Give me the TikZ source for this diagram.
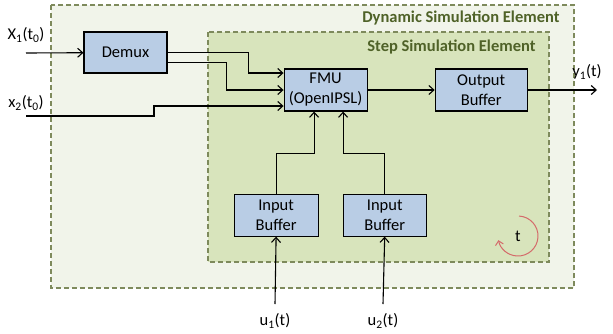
\documentclass[tikz,border=0pt]{standalone}
\usepackage{fontspec}
\setmainfont{Carlito}
\usetikzlibrary{arrows.meta,positioning}

\definecolor{outerfill}{HTML}{F1F4EA}
\definecolor{innerfill}{HTML}{D8E4BC}
\definecolor{dashcol}{HTML}{7E8A5C}
\definecolor{labcol}{HTML}{4F6228}
\definecolor{boxfill}{HTML}{B9CDE5}
\definecolor{loopcol}{HTML}{D46A6A}

\newcommand{\diagfont}{\fontsize{16.5}{20}\selectfont}

\tikzset{
  block/.style={draw=black, line width=1.1pt, fill=boxfill, minimum width=84pt,
    minimum height=42pt, align=center, inner sep=1pt},
  area/.style={draw=dashcol, line width=1.2pt, dash pattern=on 5pt off 3pt},
  arealabel/.style={anchor=east, text=labcol, font=\diagfont\bfseries},
  sig/.style={line width=1.1pt, -{Straight Barb[length=5pt,width=9pt]}}
}

\begin{document}
\begin{tikzpicture}[x=1pt, y=-1pt, node distance=40pt and 40pt,
    every node/.style={font=\diagfont}]
      \useasboundingbox (0,0) rectangle (613,333);

      % containers
      \draw[area, fill=outerfill] (51,5) rectangle (574,288);
      \draw[area, fill=innerfill] (208,32) rectangle (549,262);
      \node[arealabel] (dynlab) at (563,18) {Dynamic Simulation Element};
      \node[arealabel] (steplab) at (539,47) {Step Simulation Element};

      \node[block, minimum width=83pt, minimum height=41pt] (demux) at (125.5,52.5) {Demux};
      \node[block, minimum width=83pt] (fmu) [right=116pt of demux, yshift=-37.5pt] {FMU\\(OpenIPSL)};
      \node[block, minimum width=92pt] (outbuf) [right=67pt of fmu] {Output\\Buffer};
      \node[block] (inbuf1) [below=82pt of fmu, xshift=-49.5pt] {Input\\Buffer};
      \node[block, minimum width=83pt] (inbuf2) [right=24pt of inbuf1] {Input\\Buffer};

      % free ends
      \coordinate (x1in) at (26,53);
      \coordinate (x2in) at (26,116);
      \coordinate (y1out) at (597,90);
      \coordinate (u1in) at (275,304);
      \coordinate (u2in) at (383,304);

      \node[] (x1lab) at (26,35) {X\textsubscript{1}(t\textsubscript{0})};
      \node[] (x2lab) at (26,103) {x\textsubscript{2}(t\textsubscript{0})};
      \node[] (y1lab) at (587,72) {y\textsubscript{1}(t)};
      \node[] (u1lab) at (275,321) {u\textsubscript{1}(t)};
      \node[] (u2lab) at (383,321) {u\textsubscript{2}(t)};

      \draw[sig] (x1in) -- (demux);
      \draw[sig] (demux.east) -- ++(81,0) |- ([yshift=17pt]fmu.west);
      \draw[sig] ([yshift=-10pt]demux.east) -- ++(59,0) |- (fmu.west);
      \draw[sig] (x2in) -- ++(128,0) |- ([yshift=-16pt]fmu.west);
      \draw[sig] (fmu) -- (outbuf);
      \draw[sig] (outbuf.east) -- (y1out);
      \draw[sig] (inbuf1.north) -- ++(0,-40) -| ([xshift=-11.5pt]fmu.south);
      \draw[sig] (inbuf2.north) -- ++(0,-40) -| ([xshift=17.5pt]fmu.south);
      \draw[sig] (u1in) -- (inbuf1.south);
      \draw[sig] (u2in) -- (inbuf2.south);

      % time loop
      \node[] (tlab) at (518,236) {t};
      \draw[loopcol, line width=1pt, -{Straight Barb[length=4pt,width=8pt]}]
        ([shift={(87:20pt)}]tlab.center) arc[start angle=87, end angle=-168, radius=20pt];
\end{tikzpicture}
\end{document}
